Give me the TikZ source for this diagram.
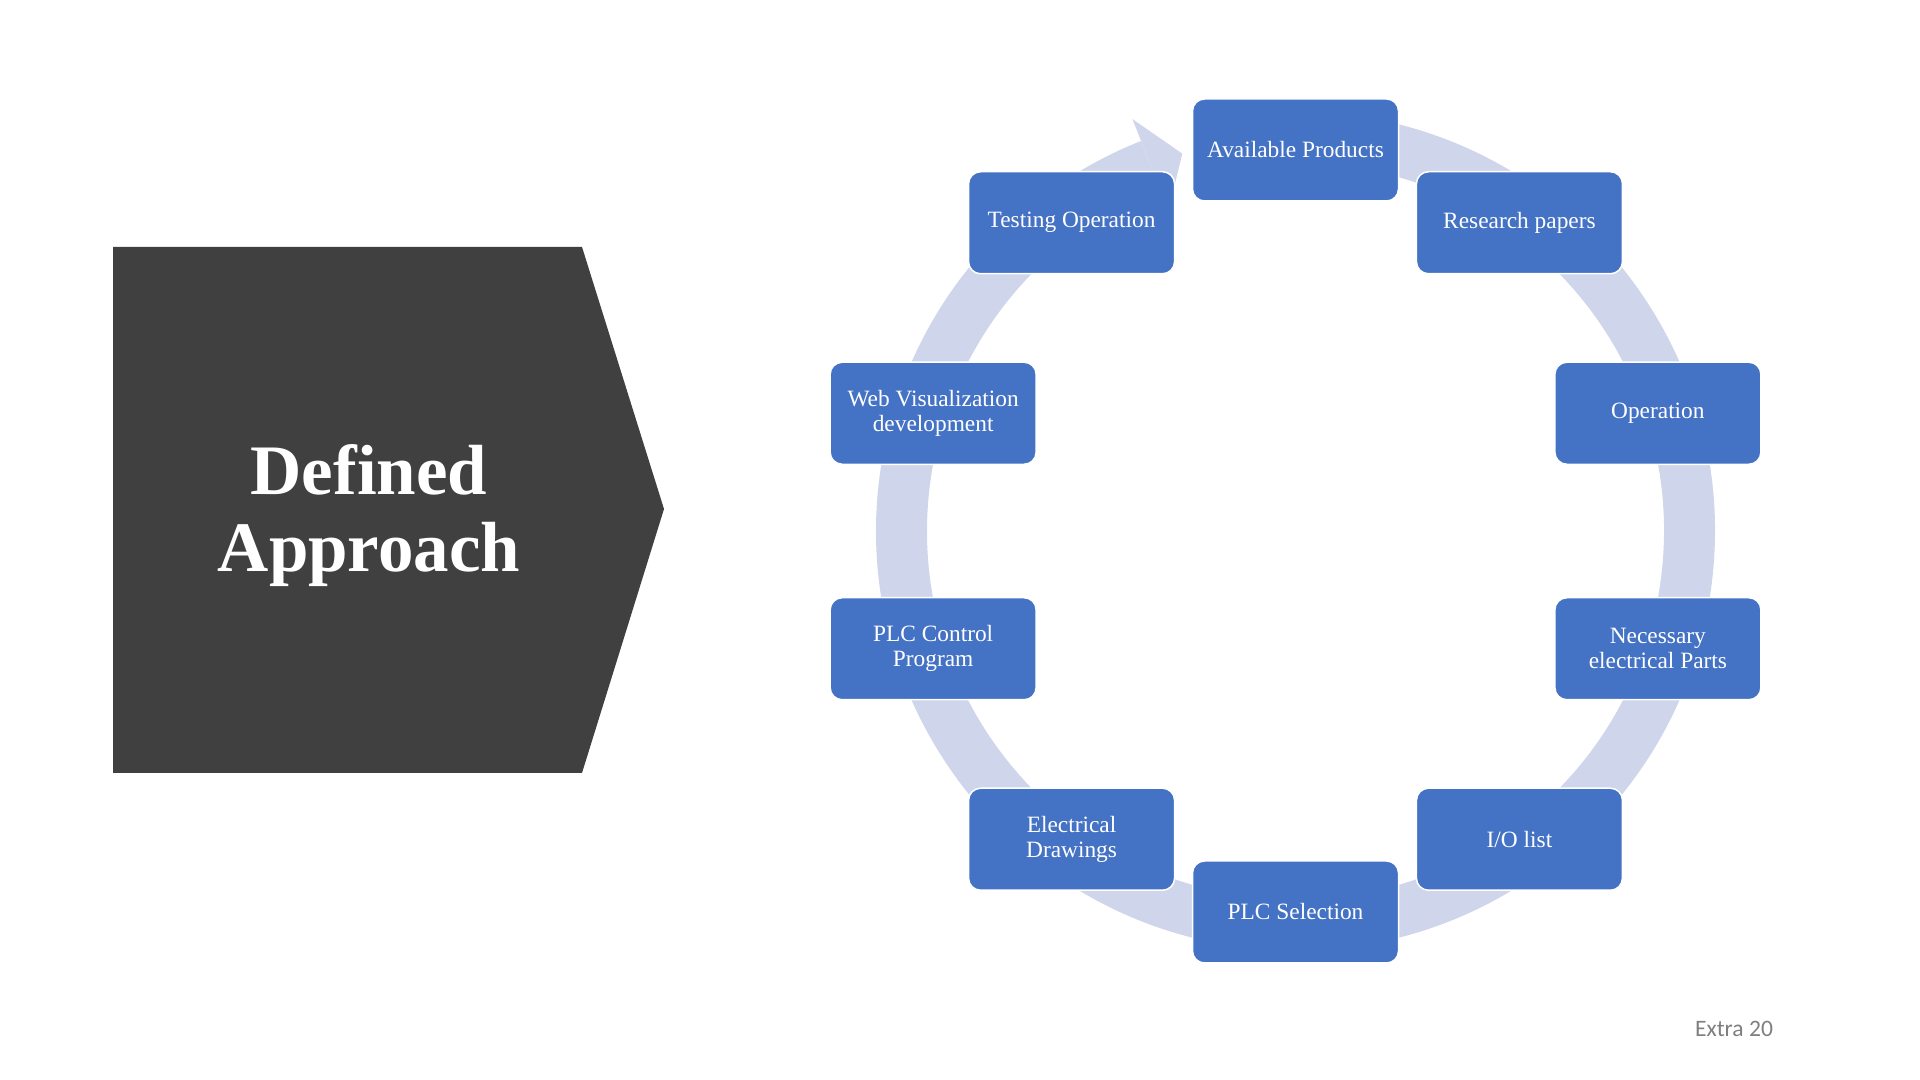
\documentclass[tikz,border=0pt]{standalone}
\usepackage{fontspec}
\setmainfont{Liberation Serif}
\newfontfamily\notefont{Carlito}

\definecolor{slate}{HTML}{404040}
\definecolor{stageblue}{HTML}{4472C4}
\definecolor{ringblue}{HTML}{CFD5EA}
\definecolor{notegray}{HTML}{7F7F7F}

\tikzset{
  stage/.style={draw=white, line width=0.15mm, fill=stageblue, rounded corners=1.2mm,
    minimum width=2.06cm, minimum height=1.02cm, inner sep=0pt, align=center,
    text=white, font=\fontsize{6.65}{7.1}\selectfont},
  headline/.style={text=white, align=center, inner sep=0pt,
    font=\bfseries\fontsize{20.2}{22}\selectfont},
  pagenote/.style={anchor=base, text=notegray, font=\notefont\fontsize{6.7}{8}\selectfont}
}

\begin{document}
\begin{tikzpicture}
  % Constants
  \pgfmathsetmacro\rbox{3.81}
  \pgfmathsetmacro\rring{3.94}
  \pgfmathsetmacro\rin{\rring-0.49}
  \pgfmathsetmacro\rout{\rring+0.49}
  % Boundary
  \path[use as bounding box] (0,0) rectangle (19.2,10.8);
  % Title block
  \fill[slate] (1.13,8.33) -- (5.82,8.33) -- (6.64,5.71) -- (5.82,3.07) -- (1.13,3.07) -- cycle;
  \node[headline] (title) at (3.69,5.645) {Defined\\Approach};
  % Cycle
  \coordinate (hub) at (12.955,5.49);
  \begin{scope}[shift={(hub)}]
    \draw[ringblue, line width=5.1mm] (85:\rring) arc (85:-248.4:\rring);
    \fill[ringblue] (111.6:\rin) -- (106.7:\rring) -- (111.6:\rout) -- cycle;
    \foreach \ang/\txt [count=\i] in {90/{Available Products}, 54/{Research papers},
        18/{Operation}, -18/{Necessary\\electrical Parts}, -54/{I/O list},
        -90/{PLC Selection}, -126/{Electrical\\Drawings}, -162/{PLC Control\\Program},
        162/{Web Visualization\\development}, 126/{Testing Operation}}
      \node[stage] (stage\i) at (\ang:\rbox) {\txt};
  \end{scope}
  % Page number
  \node[pagenote] (pagenum) at (17.34,0.43) {Extra 20};
\end{tikzpicture}
\end{document}
